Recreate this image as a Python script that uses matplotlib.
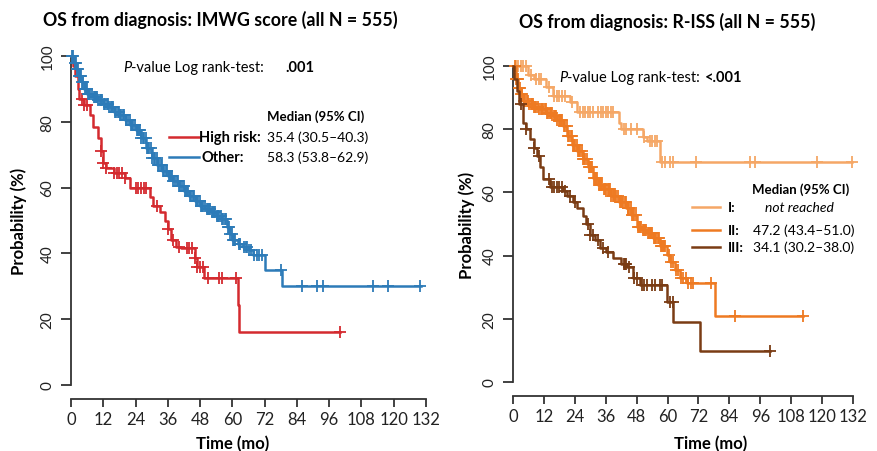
import numpy as np
import matplotlib
matplotlib.use("Agg")
import matplotlib.pyplot as plt

plt.rcParams['font.family'] = ['Lato', 'DejaVu Sans']

# ---- IMWG score panel ----
hr_t = [0, 0.8, 1.5, 2.5, 3, 5, 7, 8, 10, 11, 12, 13, 16, 20, 22, 29.5, 30.5, 33, 35, 36, 37, 39, 41, 46, 47, 49.5, 62, 62.6, 100]
hr_s = [100, 97, 94, 90, 87, 85, 82, 78.5, 75, 71, 67.5, 66, 64.5, 63, 60, 57, 54.5, 52.5, 50, 47.5, 44, 42, 41.5, 38.5, 36, 32.5, 24.3, 16, 16]
hr_cens = [4, 5, 6, 11, 12, 13, 16, 17, 18, 19, 20, 24, 25, 26, 27, 28, 32, 36, 38, 40, 43, 44, 45, 46,
           47, 48, 49, 51, 55, 56, 61.5, 100]

oth_t = [0, 1, 2, 3, 4, 5, 6, 8, 10, 12, 14, 16, 18, 20, 22, 24, 26, 28, 30, 32, 34, 36, 38, 40, 42, 44,
         46, 48, 50, 52, 54, 56, 58, 59, 60, 62, 64, 66, 67.5, 72, 78.5, 130]
oth_s = [100, 98, 96, 94, 92, 90, 88.5, 87.5, 86.5, 85.5, 84.5, 83, 82, 80.5, 79, 77.5, 75, 72, 69, 67, 65,
         63.5, 62, 60.5, 59, 57.5, 56, 54.5, 53.5, 52.5, 51.5, 50.5, 48, 46, 44, 43, 42, 41, 39.5, 35, 30, 30]
oth_cens = [0.5, 0.9, 1.5, 1.9, 2.2, 2.7, 3.1, 3.5, 3.8, 4.2, 4.6, 5.1, 5.5, 5.9, 6.3, 6.8, 7.1, 7.7, 8.4,
            8.8, 9.2, 9.6, 10.1, 10.7, 11.3, 11.7, 12.2, 12.8, 13.4, 13.7, 14.1, 14.8, 15.3, 15.7, 16.2,
            16.9, 17.4, 17.7, 18.1, 18.6, 19.2, 19.8, 20.3, 20.6, 21.1, 21.8, 22.4, 22.8, 23.2, 23.9, 24.5,
            24.8, 25.3, 25.7, 26.1, 26.6, 27.2, 27.8, 28.4, 28.7, 29.1, 29.7, 30.3, 30.8, 31.4, 31.8, 32.2,
            32.9, 33.5, 33.8, 34.1, 34.7, 35.2, 35.8, 36.4, 36.9, 37.3, 37.7, 38.1, 38.8, 39.4, 39.8, 40.2,
            40.7, 41.3, 41.9, 42.5, 42.8, 43.2, 43.6, 44.1, 44.8, 45.3, 45.9, 46.4, 46.7, 47.2, 47.8, 48.3,
            48.6, 49.1, 49.7, 50.4, 50.8, 51.2, 51.7, 52.3, 52.8, 53.1, 53.7, 54.4, 54.8, 55.2, 55.8, 56.3,
            56.7, 57.1, 57.6, 58.4, 58.8, 59.3, 59.7, 60.2, 60.6, 61.1, 62.5, 63, 64.2, 65, 65.6, 66, 66.8,
            68, 69, 70, 71, 78, 85.8, 91.4, 93.8, 112.2, 118, 129.8]

# ---- R-ISS panel ----
s1_t = [0, 6, 8, 13, 15.5, 22, 25, 41, 42, 50.5, 52, 57, 131.6]
s1_s = [100, 97, 96, 93.5, 90.5, 88.5, 85.5, 82, 80, 77.5, 76.3, 69.6, 69.6]
s1_cens = [1, 2, 3, 4, 5, 7, 9, 10, 11, 14, 16, 17, 18, 19, 20, 23, 26, 27, 28, 29, 30, 31, 33, 34, 35, 36,
           37, 38, 39, 43, 44, 46, 48, 51, 53, 54, 55, 56, 58, 59, 61, 62, 71, 92, 94, 118, 131.6]

s2_t = [0, 1, 2, 3, 4, 6, 8, 10, 13, 15.5, 17, 19.4, 21, 23, 25, 27, 29, 31, 33, 35, 38, 41, 44, 46, 48,
        50, 52, 54.5, 57, 59.8, 61, 63, 65, 67.5, 78.4, 112.6]
s2_s = [100, 96, 93, 91, 89, 88, 87, 86.4, 85, 84.2, 83, 81, 78, 75, 73, 70.6, 68, 64.5, 62.5, 61, 59, 57,
        55, 53, 49, 48, 47, 45.6, 43, 40.2, 38, 35.4, 33, 31.3, 20.8, 20.8]
s2_cens = [0.6, 1.0, 1.4, 1.8, 2.3, 2.8, 3.2, 3.6, 4.1, 4.7, 5.3, 5.7, 6.2, 6.8, 7.4, 7.8, 8.3, 8.7, 9.1,
           9.6, 10.2, 10.8, 11.4, 11.8, 12.3, 12.7, 13.1, 13.6, 14.2, 14.6, 15.1, 15.8, 16.3, 16.7, 17.2,
           17.8, 18.4, 18.7, 19.1, 19.7, 20.3, 20.8, 21.2, 21.9, 22.4, 22.8, 23.3, 23.7, 24.1, 24.8, 25.4,
           25.8, 26.2, 26.7, 27.3, 27.7, 28.1, 28.8, 29.4, 29.8, 30.2, 30.7, 31.3, 31.7, 32.1, 32.8, 33.4,
           33.8, 34.2, 34.7, 35.3, 35.8, 36.1, 36.8, 37.4, 37.8, 38.2, 38.7, 39.3, 39.7, 40.1, 40.8, 41.4,
           41.8, 42.2, 42.8, 43.3, 43.9, 44.5, 44.8, 45.2, 45.8, 46.3, 46.7, 47.1, 47.8, 48.4, 48.8, 49.2,
           49.8, 50.3, 50.7, 51.1, 51.8, 52.4, 52.8, 53.2, 53.7, 54.1, 54.8, 55.3, 55.7, 56.2, 56.8, 57.4,
           57.8, 58.1, 58.7, 59.2, 60.4, 61.2, 62, 63.3, 64, 65.4, 66, 67, 68, 69, 70, 77, 86.2, 112.6]

s3_t = [0, 0.5, 1.5, 2.5, 3.9, 5, 6.6, 8, 9.3, 10.5, 11.6, 14.4, 19.4, 21, 23.3, 25, 27.2, 28.5, 29.9, 32,
        33.8, 36, 38.8, 42, 44.3, 46.6, 49.3, 59.8, 62.2, 72.6, 99.8]
s3_s = [100, 96, 92, 88, 82, 80, 77, 74, 71.5, 68, 64.2, 61.7, 60.4, 59, 57, 55, 52.5, 50, 46.5, 45, 42.4,
        41, 39.2, 37.5, 36.4, 32.9, 30.7, 25.3, 19, 9.8, 9.8]
s3_cens = [3, 5, 8, 10, 14, 15, 16, 17, 18, 19, 20, 22, 24, 29, 30, 31, 33, 35, 37, 43, 43.5, 44, 45, 47,
           48, 50, 51, 52, 54, 55, 57, 58, 61, 62, 99.8]

xticks = [0, 12, 24, 36, 48, 60, 72, 84, 96, 108, 120, 132]
yticks = [0, 20, 40, 60, 80, 100]

RED = '#d42a2f'
BLUE = '#2d7bb8'
ORANGE1 = '#f5a766'
ORANGE2 = '#ee7a22'
BROWN = '#7a3c14'
AXC = '#333333'


def km(ax, t, s, cens, color):
    t = np.asarray(t, float)
    s = np.asarray(s, float)
    ax.step(t, s, where='post', color=color, lw=1.8, clip_on=False, zorder=3)
    c = np.asarray(cens, float)
    idx = np.searchsorted(t, c, side='right') - 1
    ax.plot(c, s[idx], ls='none', marker='+', ms=9, mew=1.3, color=color, clip_on=False, zorder=3)


def style(ax, xlab_x, xlab_y, ylab_x):
    ax.set_xlim(0, 132)
    ax.set_ylim(0, 100)
    ax.set_xticks(xticks)
    ax.set_yticks(yticks)
    for sp in ['top', 'right']:
        ax.spines[sp].set_visible(False)
    ax.spines['bottom'].set_position(('outward', 10))
    ax.spines['bottom'].set_bounds(0, 132)
    ax.spines['left'].set_bounds(0, 100)
    for sp in ['bottom', 'left']:
        ax.spines[sp].set_color(AXC)
        ax.spines[sp].set_linewidth(1.3)
    ax.tick_params(axis='x', length=5.5, width=1.3, color=AXC, labelsize=12, pad=3, labelcolor='#222222')
    ax.tick_params(axis='y', length=7, width=1.3, color=AXC, labelsize=11, pad=5, labelrotation=90,
                   labelcolor='#222222')
    for lb in ax.get_yticklabels():
        lb.set_va('center')
    ax.set_xlabel('Time (mo)', fontsize=12, fontweight='bold', va='center')
    ax.set_ylabel('Probability (%)', fontsize=12, fontweight='bold', va='center')
    ax.xaxis.set_label_coords(xlab_x, xlab_y)
    ax.yaxis.set_label_coords(ylab_x, 0.5)


fig = plt.figure(figsize=(8.77, 4.52), dpi=100)

# left panel
ax1 = fig.add_axes([71 / 877, 1 - 386 / 452, 355 / 877, 329 / 452])
km(ax1, hr_t, hr_s, hr_cens, RED)
km(ax1, oth_t, oth_s, oth_cens, BLUE)
style(ax1, 0.454, -0.176, -0.146)

ax1.text(19.3, 96.7, 'P', fontsize=10.5, style='italic', va='center')
ax1.text(22.3, 96.7, '-value Log rank-test:', fontsize=10.5, va='center')
ax1.text(79.6, 96.7, '.001', fontsize=10.5, fontweight='bold', va='center')
ax1.text(72.9, 81.8, 'Median (95% CI)', fontsize=9.5, fontweight='bold', va='center')
ax1.plot([36.4, 47.6], [75.4, 75.4], color=RED, lw=1.8, clip_on=False)
ax1.plot([36.4, 47.6], [69.3, 69.3], color=BLUE, lw=1.8, clip_on=False)
ax1.text(47.6, 75.4, 'High risk:', fontsize=10.5, fontweight='bold', va='center')
ax1.text(48.7, 69.3, 'Other:', fontsize=10.5, fontweight='bold', va='center')
ax1.text(72.9, 75.4, '35.4 (30.5\u201340.3)', fontsize=10, va='center')
ax1.text(72.9, 69.3, '58.3 (53.8\u201362.9)', fontsize=10, va='center')

# right panel
ax2 = fig.add_axes([513 / 877, 1 - 383 / 452, 340 / 877, 316 / 452])
km(ax2, s1_t, s1_s, s1_cens, ORANGE1)
km(ax2, s2_t, s2_s, s2_cens, ORANGE2)
km(ax2, s3_t, s3_s, s3_cens, BROWN)
style(ax2, 0.582, -0.193, -0.135)

ax2.text(17.9, 96.5, 'P', fontsize=10.5, style='italic', va='center')
ax2.text(21.0, 96.5, '-value Log rank-test:', fontsize=10.5, va='center')
ax2.text(74.5, 96.5, '<.001', fontsize=10.5, fontweight='bold', va='center')
ax2.text(92.8, 61.1, 'Median (95% CI)', fontsize=9.5, fontweight='bold', va='center')
leg_y = [55.4, 48.1, 42.7]
leg_lab = ['I:', 'II:', 'III:']
leg_val = ['not reached', '47.2 (43.4\u201351.0)', '34.1 (30.2\u201338.0)']
for y, c, lab, val in zip(leg_y, [ORANGE1, ORANGE2, BROWN], leg_lab, leg_val):
    ax2.plot([69.5, 80.4], [y, y], color=c, lw=1.8, clip_on=False)
    ax2.text(83.5, y, lab, fontsize=10, fontweight='bold', va='center')
    if val == 'not reached':
        ax2.text(97.8, y, val, fontsize=10, style='italic', va='center')
    else:
        ax2.text(93.2, y, val, fontsize=10, va='center')

fig.text(220 / 877, 1 - 20 / 452, 'OS from diagnosis: IMWG score (all N = 555)', fontsize=12.8,
         fontweight='bold', ha='center', va='center')
fig.text(667 / 877, 1 - 22 / 452, 'OS from diagnosis: R-ISS (all N = 555)', fontsize=12.8,
         fontweight='bold', ha='center', va='center')

fig.savefig('out.png', dpi=100)
